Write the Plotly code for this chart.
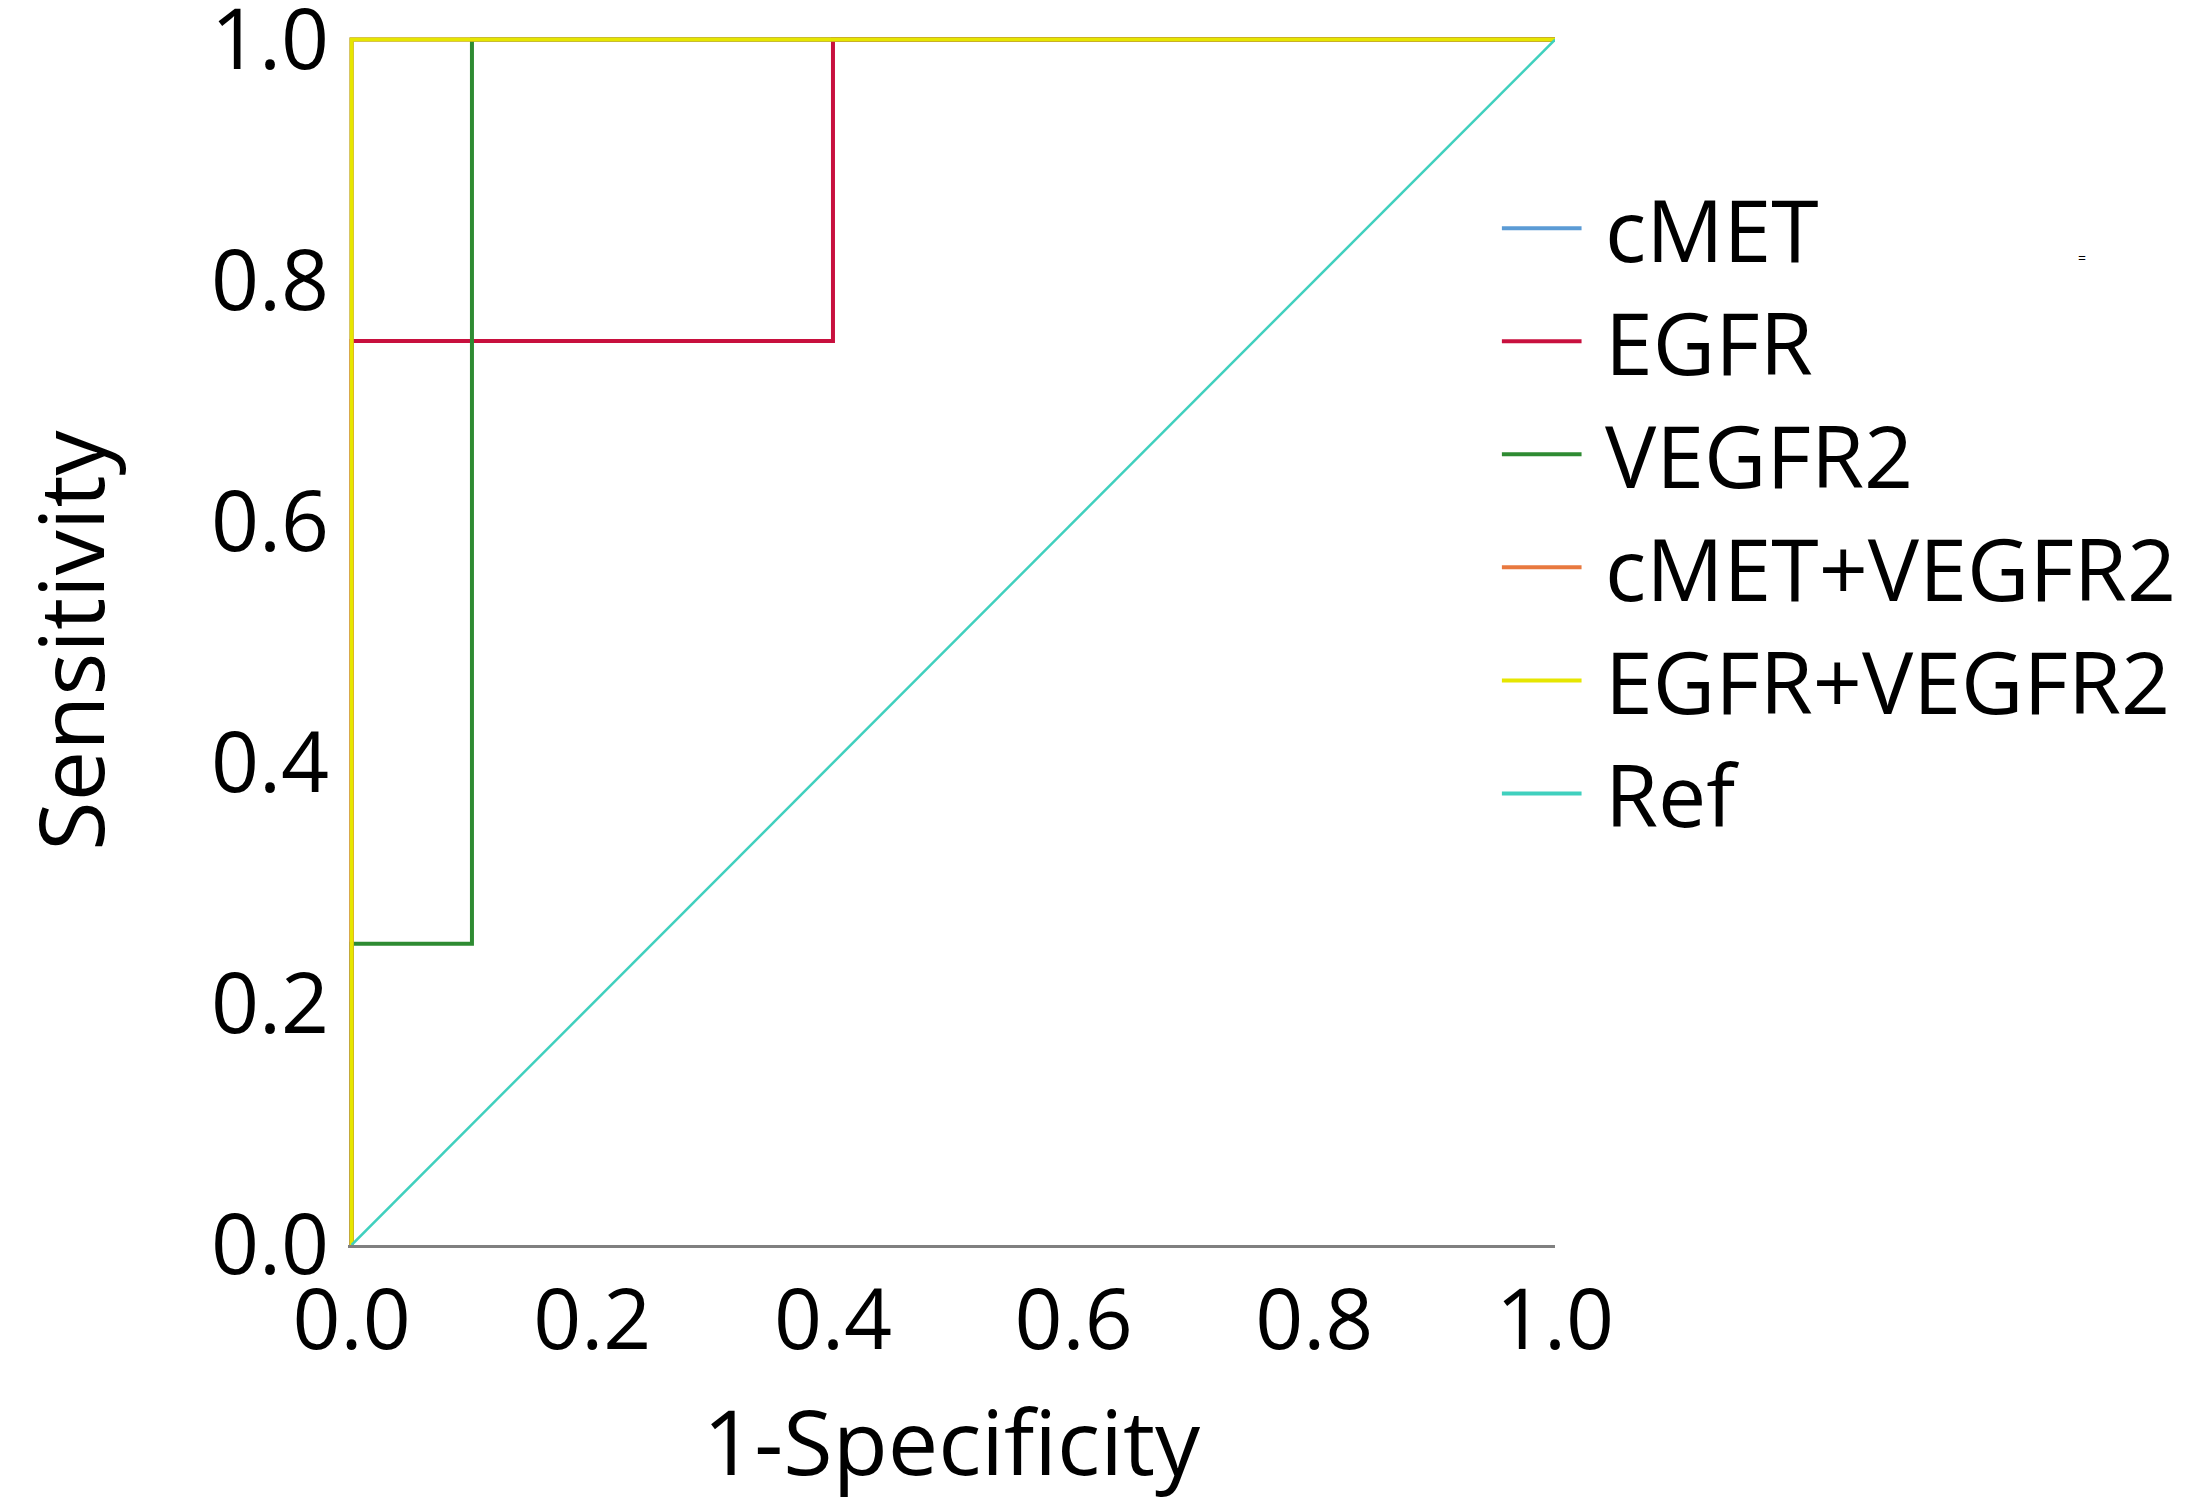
import plotly.graph_objects as go

# ROC curve points (1-specificity, sensitivity)
names = ["cMET", "EGFR", "VEGFR2", "cMET+VEGFR2", "EGFR+VEGFR2", "Ref"]
cmet_x = [0, 0, 1]
cmet_y = [0, 1, 1]
egfr_x = [0, 0, 0.4, 0.4, 1]
egfr_y = [0, 0.75, 0.75, 1, 1]
vegfr2_x = [0, 0, 0.1, 0.1, 1]
vegfr2_y = [0, 0.25, 0.25, 1, 1]
cmet_vegfr2_x = [0, 0, 1]
cmet_vegfr2_y = [0, 1, 1]
egfr_vegfr2_x = [0, 0, 1]
egfr_vegfr2_y = [0, 1, 1]
ref_x = [0, 1]
ref_y = [0, 1]

tick_vals = [0, 0.2, 0.4, 0.6, 0.8, 1.0]
tick_text = ["0.0", "0.2", "0.4", "0.6", "0.8", "1.0"]

colors = ["#5b9bd5", "#c8103e", "#2e8b32", "#e8793f", "#e6e600", "#40d0be"]
widths = [4, 4, 4, 4, 4, 2.5]

xs = [cmet_x, egfr_x, vegfr2_x, cmet_vegfr2_x, egfr_vegfr2_x, ref_x]
ys = [cmet_y, egfr_y, vegfr2_y, cmet_vegfr2_y, egfr_vegfr2_y, ref_y]

font = "Open Sans"

fig = go.Figure()
for n, x, y, c, w in zip(names, xs, ys, colors, widths):
    fig.add_trace(go.Scatter(x=x, y=y, name=n, mode="lines", showlegend=False,
                             line=dict(color=c, width=w)))

# legend drawn by hand so the sample lines are long like the original
shapes = []
annotations = []
leg_top = 0.841
leg_step = 0.0935
for i, (n, c) in enumerate(zip(names, colors)):
    yy = leg_top - i * leg_step
    shapes.append(dict(type="line", xref="paper", yref="paper",
                       x0=0.956, x1=1.022, y0=yy, y1=yy,
                       line=dict(color=c, width=4)))
    annotations.append(dict(text=n, xref="paper", yref="paper", x=1.04, y=yy,
                            xanchor="left", yanchor="middle", showarrow=False,
                            font=dict(size=86, family=font, color="black")))
annotations.append(dict(text="=", x=1.442, y=0.826, xref="paper", yref="paper",
                        showarrow=False, font=dict(size=14, color="black")))

fig.update_layout(
    width=2211, height=1502,
    margin=dict(l=340, r=664, t=28, b=265, autoexpand=False),
    plot_bgcolor="white", paper_bgcolor="white",
    font=dict(family=font, color="black"),
    shapes=shapes, annotations=annotations,
)
fig.update_xaxes(range=[-0.003, 1.0], tickvals=tick_vals, ticktext=tick_text,
                 tickfont=dict(size=84), showgrid=False, zeroline=False,
                 showline=True, linecolor="#808080", linewidth=3,
                 ticks="", ticklabeloverflow="allow", automargin=False,
                 title=dict(text="1-Specificity", font=dict(size=90), standoff=40))
fig.update_yaxes(range=[0, 1.003], tickvals=tick_vals, ticktext=tick_text,
                 tickfont=dict(size=84), showgrid=False, zeroline=False,
                 showline=False, ticks="", ticklabelstandoff=18,
                 ticklabeloverflow="allow", automargin=False,
                 title=dict(text="Sensitivity", font=dict(size=90), standoff=105))

fig.write_html("out.html")
